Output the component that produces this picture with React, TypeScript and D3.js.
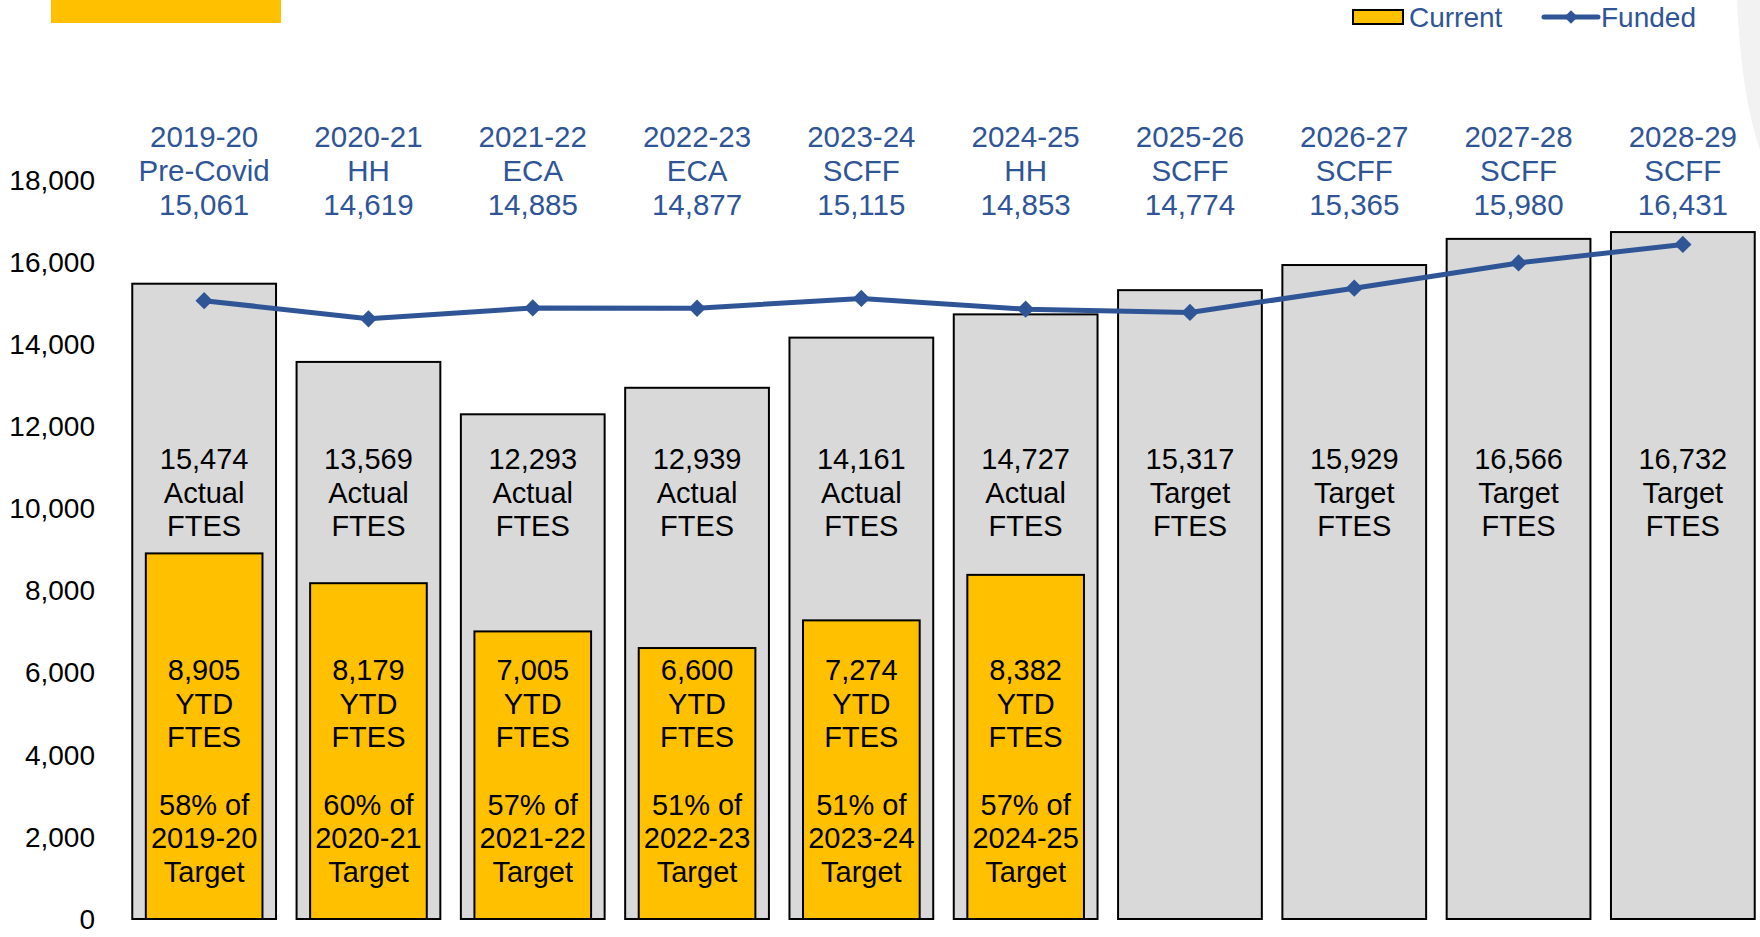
import React from 'react';
import * as d3 from 'd3';

// chart data
const years = ['2019-20', '2020-21', '2021-22', '2022-23', '2023-24', '2024-25', '2025-26', '2026-27', '2027-28', '2028-29'];
const fund_types = ['Pre-Covid', 'HH', 'ECA', 'ECA', 'SCFF', 'HH', 'SCFF', 'SCFF', 'SCFF', 'SCFF'];
const funded = [15061, 14619, 14885, 14877, 15115, 14853, 14774, 15365, 15980, 16431];
const target_ftes = [15474, 13569, 12293, 12939, 14161, 14727, 15317, 15929, 16566, 16732];
const target_kind = ['Actual', 'Actual', 'Actual', 'Actual', 'Actual', 'Actual', 'Target', 'Target', 'Target', 'Target'];
const ytd_ftes = [8905, 8179, 7005, 6600, 7274, 8382];
const pct_of_target = [58, 60, 57, 51, 51, 57];
const y_ticks = [0, 2000, 4000, 6000, 8000, 10000, 12000, 14000, 16000, 18000];

const W = 1760;
const H = 937;
const FONT = '"Liberation Sans", Arial, sans-serif';
const BLUE = '#2f5597';
const GOLD = '#ffc000';
const GREY = '#d9d9d9';

const fmt = d3.format(',');

export default function App() {
  const x = d3.scaleBand<string>().domain(years).range([122, 1765]).paddingInner(0.125).paddingOuter(0.0625);
  const y = d3.scaleLinear().domain([0, 18000]).range([919, 180]);

  const step = x.step();
  const inner_w = step * 0.71;
  const cx = (d: string) => (x(d) ?? 0) + x.bandwidth() / 2;

  const line = d3
    .line<number>()
    .x((_, i) => cx(years[i]))
    .y((d) => y(d));

  // square turned 45deg -> the office-style diamond marker
  const diamond = d3.symbol(d3.symbolSquare, 150)();
  const legend_diamond = d3.symbol(d3.symbolSquare, 90)();

  const fs = 28;
  const fs_in = 29;
  const fs_top = 29.5;
  const lh = 33.6;

  return (
    <div style={{ position: 'absolute', left: 0, top: 0 }}>
      <svg width={W} height={H} style={{ display: 'block', fontFamily: FONT }}>
        <rect width={W} height={H} fill='#fff' />
        {/* slide decorations */}
        <rect x={51} y={0} width={230} height={23} fill={GOLD} />
        <path d={`M1737,0 Q1741,95 1760,150 L1760,0 Z`} fill='#f2f2f2' />

        {/* y axis labels */}
        {y_ticks.map((t) => (
          <text key={t} x={95} y={y(t) + fs * 0.35} textAnchor='end' fontSize={fs} fill='#000'>
            {fmt(t)}
          </text>
        ))}

        {/* grey target bars */}
        {years.map((yr, i) => (
          <g key={'g' + yr}>
            <rect
              x={x(yr)}
              y={y(target_ftes[i])}
              width={x.bandwidth()}
              height={y(0) - y(target_ftes[i])}
              fill={GREY}
              stroke='#000'
              strokeWidth={2}
            />
            {[fmt(target_ftes[i]), target_kind[i], 'FTES'].map((s, k) => (
              <text key={k} x={cx(yr)} y={459 + k * lh + fs_in * 0.35} textAnchor='middle' fontSize={fs_in} fill='#000'>
                {s}
              </text>
            ))}
          </g>
        ))}

        {/* yellow YTD bars */}
        {ytd_ftes.map((v, i) => {
          const yr = years[i];
          const lines = [fmt(v), 'YTD', 'FTES', '', `${pct_of_target[i]}% of`, yr, 'Target'];
          return (
            <g key={'y' + yr}>
              <rect
                x={cx(yr) - inner_w / 2}
                y={y(v)}
                width={inner_w}
                height={y(0) - y(v)}
                fill={GOLD}
                stroke='#000'
                strokeWidth={2}
              />
              {lines.map((s, k) => (
                <text key={k} x={cx(yr)} y={670 + k * lh + fs_in * 0.35} textAnchor='middle' fontSize={fs_in} fill='#000'>
                  {s}
                </text>
              ))}
            </g>
          );
        })}

        {/* funded line */}
        <path d={line(funded) ?? ''} fill='none' stroke={BLUE} strokeWidth={5} strokeLinejoin='round' />
        {funded.map((v, i) => (
          <path key={'m' + i} d={diamond ?? ''} transform={`translate(${cx(years[i])},${y(v)}) rotate(45)`} fill={BLUE} />
        ))}

        {/* category labels above */}
        {years.map((yr, i) =>
          [yr, fund_types[i], fmt(funded[i])].map((s, k) => (
            <text key={yr + k} x={cx(yr)} y={137 + k * lh + fs_top * 0.35} textAnchor='middle' fontSize={fs_top} fill={BLUE}>
              {s}
            </text>
          ))
        )}

        {/* legend */}
        <rect x={1353} y={10} width={50} height={14} fill={GOLD} stroke='#000' strokeWidth={2} />
        <text x={1409} y={17 + fs * 0.35} fontSize={fs} fill={BLUE}>
          Current
        </text>
        <line x1={1544} x2={1598} y1={17} y2={17} stroke={BLUE} strokeWidth={5} strokeLinecap='round' />
        <path d={legend_diamond ?? ''} transform={`translate(1571,17) rotate(45)`} fill={BLUE} />
        <text x={1601} y={17 + fs * 0.35} fontSize={fs} fill={BLUE}>
          Funded
        </text>
      </svg>
    </div>
  );
}
